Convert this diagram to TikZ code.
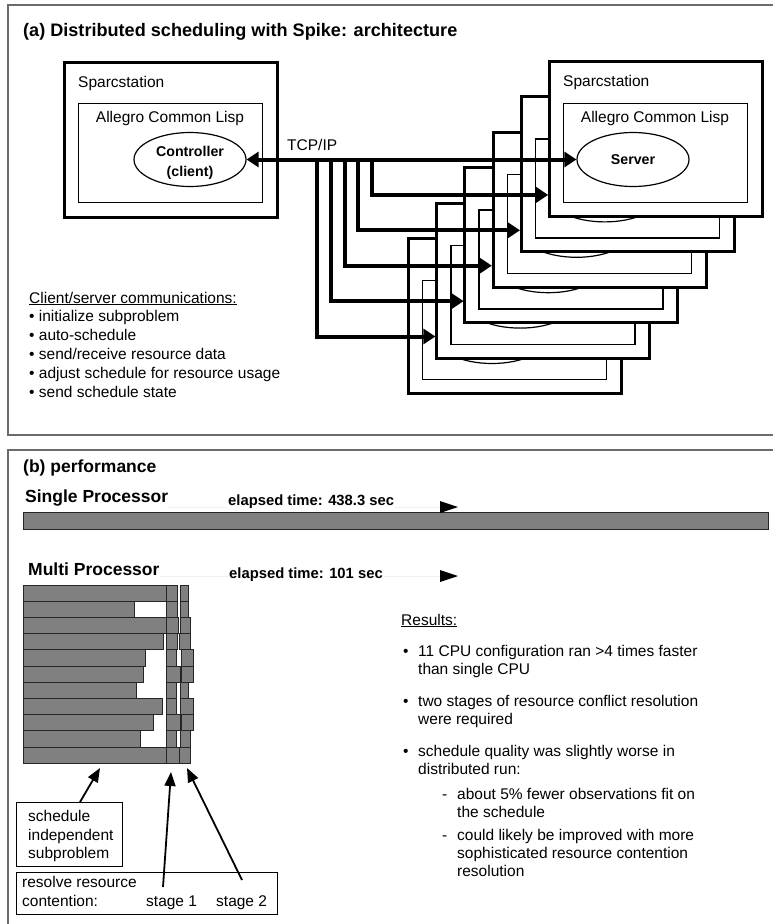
\documentclass[tikz,border=0pt]{standalone}
\usepackage{fontspec}
\setmainfont{Liberation Sans}
\usetikzlibrary{arrows.meta,shapes.geometric,calc}
\newcommand\fsz[2]{\fontsize{#1}{#2}\selectfont}
\begin{document}
\begin{tikzpicture}[x=1pt,y=-1pt,
  panel/.style={draw=black!58, line width=2pt},
  outerbox/.style={draw=black, line width=3pt, fill=white, minimum width=213pt, minimum height=155pt, inner sep=0pt, anchor=north west},
  innerbox/.style={draw=black, line width=1.3pt, minimum width=184pt, minimum height=99pt, inner sep=0pt, anchor=north west},
  procell/.style={ellipse, draw=black, line width=1.2pt, fill=white, minimum width=112pt, minimum height=54pt, inner sep=0pt},
  link/.style={line width=4pt, -{Triangle[length=12pt,width=15pt]}},
  txt/.style={anchor=base west, inner sep=0pt, font=\fsz{15.5}{18}},
  ctxt/.style={anchor=base, inner sep=0pt, font=\fsz{15.5}{18}},
  btitle/.style={anchor=base west, inner sep=0pt, font=\bfseries\fsz{17.5}{20}},
  elapsed/.style={anchor=base west, inner sep=1pt, fill=white, font=\bfseries\fsz{14.8}{17}},
  faint/.style={draw=black!6, line width=0.6pt},
  tiphead/.style={fill=black},
  bar/.style={fill=black!50, draw=black!85, line width=0.9pt},
  annot/.style={draw=black, line width=1pt, inner sep=0pt, anchor=north west},
  note/.style={line width=1.8pt, -{Triangle[length=14pt,width=11pt]}}
]
\useasboundingbox (0,0) rectangle (773,924);
\fill[white] (0,0) rectangle (773,924);

% ---------------- panel (a)
\draw[panel] (8,5) rectangle (790,435);
\node[anchor=base west, inner sep=0pt, font=\bfseries\fsz{18.1}{20}] (titleA) at (23,36) {(a) Distributed scheduling with Spike: architecture};

% client
\node[outerbox] (outerC) at (63,61) {};
\node[txt] (spC) at (78,87) {Sparcstation};
\node[innerbox] (innerC) at (78,103) {};
\node[ctxt] (aclC) at (170,122) {Allegro Common Lisp};
\node[procell] (ctrl) at (190,159.5) {};
\node[anchor=center, align=center, inner sep=0pt, font=\bfseries\fsz{14.2}{20}] (ctrltxt) at (190,163) {Controller\\(client)};

% stacked servers (back to front)
\foreach \k in {5,4,3,2,1} {
  \pgfmathsetmacro\bx{548-28.2*\k}
  \pgfmathsetmacro\by{60+35.4*\k}
  \node[outerbox] (outer\k) at (\bx,\by) {};
  \node[innerbox] (inner\k) at (\bx+15,\by+43) {};
  \node[procell] (srv\k) at (\bx+85,\by+99.5) {};
}
\node[outerbox] (outer0) at (548,60) {};
\node[txt] (spS) at (563,86) {Sparcstation};
\node[innerbox] (inner0) at (563,103) {};
\node[ctxt] (aclS) at (655,122) {Allegro Common Lisp};
\node[procell, font=\bfseries\fsz{14.2}{17}] (srv0) at (633,159.5) {Server};

% links
\node[txt] (tcp) at (287,150) {TCP/IP};
\draw[line width=4pt, {Triangle[length=12pt,width=15pt]}-{Triangle[length=12pt,width=15pt]}] (ctrl.east) -- (srv0.west);
\foreach \k in {1,...,5} {
  \coordinate (bus\k) at (386-13.8*\k,159.5);
  \draw[link] (bus\k) |- (srv\k.west);
}

% communications list
\node[txt] (cshead) at (29,303) {\underline{Client/server communications:}};
\foreach \t [count=\i] in {initialize subproblem, auto-schedule, send/receive resource data, adjust schedule for resource usage, send schedule state}
  \node[txt] (cs\i) at (29,303+18.9*\i) {• \t};

% ---------------- panel (b)
\draw[panel] (8,450) rectangle (790,960);
\node[btitle] (titleB) at (23,472) {(b) performance};

\draw[bar] (23,512) rectangle (768,529);
\node[btitle] (single) at (25,502) {Single Processor};
\coordinate (singletip) at (458,507);
\draw[faint] (single.east |- singletip) -- ([xshift=-18pt]singletip);
\fill[tiphead] (singletip) -- ++(-18,-6) -- ++(0,12) -- cycle;
\node[elapsed] (elS) at (227,505) {elapsed time: 438.3 sec};

\node[btitle] (multi) at (28,575) {Multi Processor};
\coordinate (multitip) at (458,576);
\draw[faint] (multi.east |- multitip) -- ([xshift=-18pt]multitip);
\fill[tiphead] (multitip) -- ++(-18,-6) -- ++(0,12) -- cycle;
\node[elapsed] (elM) at (228,578) {elapsed time: 101 sec};

\foreach \i/\e/\sa/\sb/\sc in {0/166/177/180.7/188.3, 1/134/177/180.7/188.3, 2/166/178.3/180.7/190.7, 3/163/177.7/179.3/190.7, 4/145/176/181.7/193.3, 5/143/180.7/181.7/193.3, 6/136/176/180.7/188.3, 7/162/176/180.7/193.3, 8/153/180.7/181.7/193.3, 9/140/176/180.7/190.7, 10/166/179/179/190.7} {
  \pgfmathsetmacro\t{585+16.2*\i}
  \draw[bar] (23,\t) rectangle (\e,\t+16.2);
  \draw[bar] (166.7,\t) rectangle (\sa,\t+16.2);
  \draw[bar] (\sb,\t) rectangle (\sc,\t+16.2);
}

% annotations
\node[annot, minimum width=106pt, minimum height=64pt] (schedbox) at (16,802) {};
\node[txt] (sch1) at (28,821) {schedule};
\node[txt] (sch2) at (28,840) {independent};
\node[txt] (sch3) at (28,858) {subproblem};
\coordinate (schedfrom) at (80,802);
\coordinate (schedtip) at (100,768);
\draw[note] (schedfrom) -- (schedtip);

\node[annot, minimum width=261pt, minimum height=42pt] (resbox) at (16,872) {};
\node[txt] (rr1) at (22,887) {resolve resource};
\node[txt] (rr2) at (22,906) {contention:};
\node[txt] (st1) at (146,906) {stage 1};
\node[txt] (st2) at (216,906) {stage 2};
\coordinate (s1from) at (163,887);
\coordinate (s1tip) at (171,772);
\coordinate (s2from) at (242,880);
\coordinate (s2tip) at (187,768);
\draw[note] (s1from) -- (s1tip);
\draw[note] (s2from) -- (s2tip);

% results
\node[txt] (reshead) at (401,625) {\underline{Results:}};
\foreach \x/\y/\t [count=\i] in {403/656/•, 418/656/11 CPU configuration ran >4 times faster, 418/674/than single CPU, 403/706/•, 418/706/two stages of resource conflict resolution, 418/724/were required, 403/756/•, 418/756/schedule quality was slightly worse in, 418/774/distributed run:, 442/799/-, 457/799/about 5\% fewer observations fit on, 457/817/the schedule, 442/840/-, 457/840/could likely be improved with more, 457/858/sophisticated resource contention, 457/876/resolution}
  \node[txt] (res\i) at (\x,\y) {\t};
\end{tikzpicture}
\end{document}
